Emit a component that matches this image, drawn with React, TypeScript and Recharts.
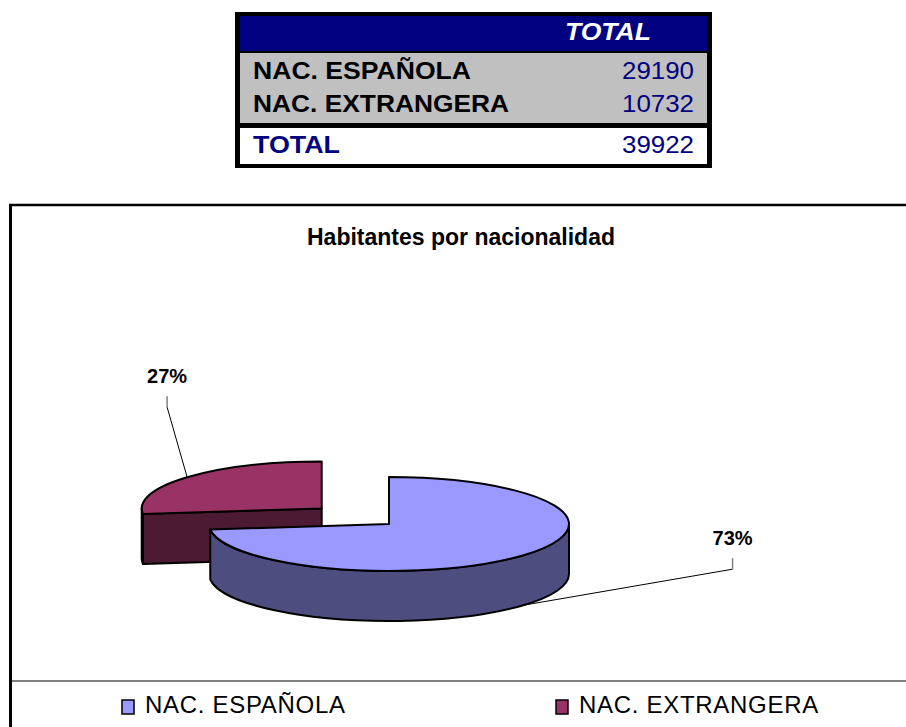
import React from 'react';
import { PieChart, Pie } from 'recharts';

const categories = ['NAC. ESPAÑOLA', 'NAC. EXTRANGERA'];
const values = [29190, 10732];
const columnHeader = 'TOTAL';
const totalLabel = 'TOTAL';
const title = 'Habitantes por nacionalidad';

const topColors = ['#9999FF', '#993366'];
const sideColors = ['#4D4D80', '#4D1A33'];
const NAVY = '#000080';
const FONT = '"Liberation Sans", Arial, sans-serif';

const TILT = 0.261;
const DEPTH = 50;
const EXPLODE = [0, 0.5];
const LABEL_OFFSET = [
  { dx: 209, dy: -60 },
  { dx: -20, dy: -94 },
];
const RAD = Math.PI / 180;

const total = values.reduce((a, b) => a + b, 0);

// the exploded slice sits at the back, so it is listed first and the pie runs counter-clockwise
const pieData = categories.map((name, i) => ({ name, value: values[i], idx: i })).reverse();

function geom(props: any) {
  const { cx, cy, outerRadius, startAngle, endAngle } = props;
  const idx = props.payload?.idx ?? props.idx;
  const rx = outerRadius;
  const ry = outerRadius * TILT;
  const mid = (startAngle + endAngle) / 2;
  const k = EXPLODE[idx];
  const ox = cx + Math.cos(mid * RAD) * rx * k;
  const oy = cy - Math.sin(mid * RAD) * ry * k;
  const pt = (a: number, dz = 0) => [ox + rx * Math.cos(a * RAD), oy - ry * Math.sin(a * RAD) + dz];
  return { idx, rx, ry, mid, ox, oy, pt };
}

function Slice3D(props: any) {
  const { startAngle, endAngle } = props;
  const { idx, rx, ry, ox, oy, pt } = geom(props);
  const a0 = Math.min(startAngle, endAngle);
  const a1 = Math.max(startAngle, endAngle);
  const top = topColors[idx];
  const side = sideColors[idx];
  const f = (p: number[]) => `${p[0].toFixed(2)},${p[1].toFixed(2)}`;

  const faces: string[] = [];
  const addFace = (a: number, normal: number) => {
    if (Math.sin(normal * RAD) < -1e-6) {
      faces.push(`M${ox},${oy} L${f(pt(a))} L${f(pt(a, DEPTH))} L${ox},${oy + DEPTH} Z`);
    }
  };
  addFace(a0, a0 - 90);
  addFace(a1, a1 + 90);

  const walls: string[] = [];
  for (let n = -2; n <= 2; n++) {
    const s = Math.max(a0, 180 + 360 * n);
    const e = Math.min(a1, 360 + 360 * n);
    if (e - s > 0.01) {
      const large = e - s > 180 ? 1 : 0;
      walls.push(
        `M${f(pt(s))} A${rx},${ry} 0 ${large} 0 ${f(pt(e))} L${f(pt(e, DEPTH))} A${rx},${ry} 0 ${large} 1 ${f(pt(s, DEPTH))} Z`
      );
    }
  }

  const large = a1 - a0 > 180 ? 1 : 0;
  const topPath = `M${ox},${oy} L${f(pt(a0))} A${rx},${ry} 0 ${large} 0 ${f(pt(a1))} Z`;

  const stroke = { stroke: '#000', strokeWidth: 2, strokeLinejoin: 'round' as const };
  return (
    <g>
      {faces.map((d, i) => (
        <path key={`f${i}`} d={d} fill={side} {...stroke} />
      ))}
      {walls.map((d, i) => (
        <path key={`w${i}`} d={d} fill={side} {...stroke} />
      ))}
      <path d={topPath} fill={top} {...stroke} />
    </g>
  );
}

function renderLabel(props: any) {
  const { percent } = props;
  const { idx, mid, pt } = geom(props);
  const front = Math.sin(mid * RAD) < 0;
  const [ax, ay] = pt(mid, front ? DEPTH : 0);
  const tx = ax + LABEL_OFFSET[idx].dx;
  const ty = ay + LABEL_OFFSET[idx].dy;
  return (
    <g key={`lbl${idx}`}>
      <polyline points={`${ax},${ay} ${tx},${ty + 24}`} fill="none" stroke="#000" strokeWidth={1} />
      <polyline points={`${tx},${ty + 24} ${tx},${ty + 13}`} fill="none" stroke="#808080" strokeWidth={1.5} />
      <text x={tx} y={ty} textAnchor="middle" fontFamily={FONT} fontSize={20} fontWeight="bold" fill="#000">
        {`${Math.round(percent * 100)}%`}
      </text>
    </g>
  );
}

function Table() {
  const rowBase = [79, 112];
  const labelLen = [218, 256];
  const stretch = { lengthAdjust: 'spacingAndGlyphs' as const };
  return (
    <svg width={906} height={180} style={{ position: 'absolute', left: 0, top: 0 }}>
      <rect x={235} y={12} width={477} height={156} fill="#000" />
      <rect x={240} y={16} width={467} height={35} fill={NAVY} />
      <rect x={240} y={53} width={467} height={70} fill="#C0C0C0" />
      <rect x={240} y={128} width={467} height={36} fill="#fff" />
      <text x={565} y={40} fontFamily={FONT} fontSize={23} fontWeight="bold" fontStyle="italic" fill="#fff" textLength={86} {...stretch}>
        {columnHeader}
      </text>
      {categories.map((c, i) => (
        <g key={c}>
          <text x={253} y={rowBase[i]} fontFamily={FONT} fontSize={23} fontWeight="bold" fill="#000" textLength={labelLen[i]} {...stretch}>
            {c}
          </text>
          <text x={622} y={rowBase[i]} fontFamily={FONT} fontSize={23} fill={NAVY} textLength={72} {...stretch}>
            {values[i]}
          </text>
        </g>
      ))}
      <text x={253} y={153} fontFamily={FONT} fontSize={23} fontWeight="bold" fill={NAVY} textLength={87} {...stretch}>
        {totalLabel}
      </text>
      <text x={622} y={153} fontFamily={FONT} fontSize={23} fill={NAVY} textLength={72} {...stretch}>
        {total}
      </text>
    </svg>
  );
}

function Frame() {
  const legendX = [145, 579];
  return (
    <svg width={906} height={727} style={{ position: 'absolute', left: 0, top: 0 }}>
      <line x1={10.5} y1={204} x2={10.5} y2={727} stroke="#000" strokeWidth={3} />
      <line x1={9} y1={205} x2={906} y2={205} stroke="#000" strokeWidth={2.5} />
      <line x1={12} y1={681} x2={906} y2={681} stroke="#808080" strokeWidth={2} />
      <text x={461} y={245} textAnchor="middle" fontFamily={FONT} fontSize={23} fontWeight="bold" fill="#000">
        {title}
      </text>
      {categories.map((c, i) => (
        <g key={c}>
          <rect x={legendX[i] - 23} y={700} width={12} height={14} fill={topColors[i]} stroke="#000" strokeWidth={1.5} />
          <text x={legendX[i]} y={713} fontFamily={FONT} fontSize={24} fill="#000" letterSpacing={0.7}>
            {c}
          </text>
        </g>
      ))}
    </svg>
  );
}

export default function App() {
  return (
    <div style={{ position: 'absolute', left: 0, top: 0, width: 906, height: 727, overflow: 'hidden', background: '#fff' }}>
      <Table />
      <Frame />
      <div style={{ position: 'absolute', left: 0, top: 0 }}>
        <PieChart width={906} height={727} margin={{ top: 0, right: 0, bottom: 0, left: 0 }}>
          <Pie
            data={pieData}
            dataKey="value"
            nameKey="name"
            cx={389}
            cy={524}
            innerRadius={0}
            outerRadius={180}
            startAngle={90}
            endAngle={450}
            shape={Slice3D}
            label={renderLabel}
            labelLine={false}
            isAnimationActive={false}
          />
        </PieChart>
      </div>
    </div>
  );
}
